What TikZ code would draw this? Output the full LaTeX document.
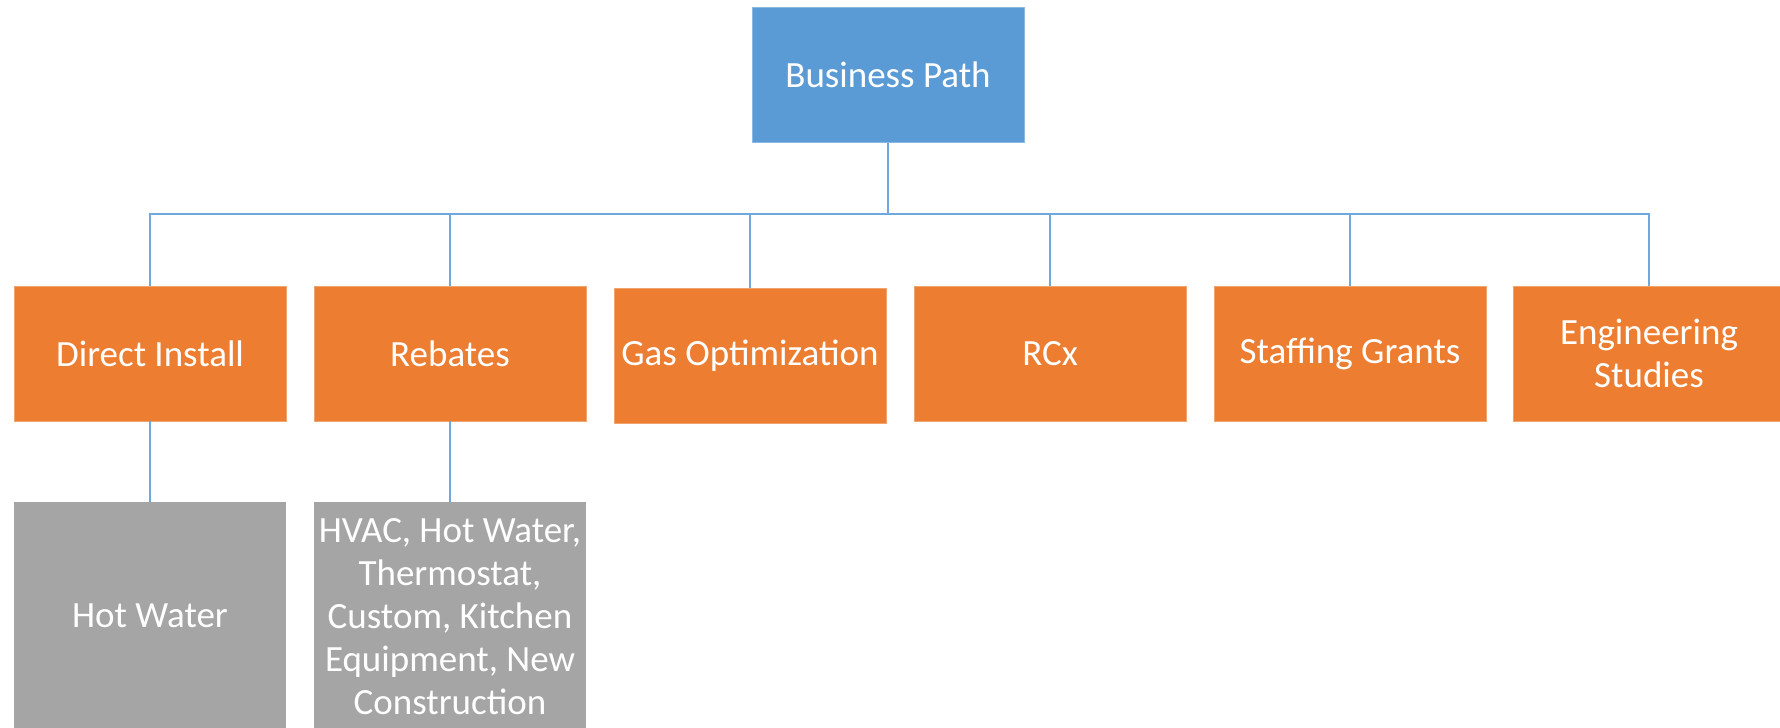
\documentclass[tikz,border=0pt]{standalone}
\usepackage{fontspec}
\setmainfont{Carlito}
\definecolor{bpblue}{HTML}{5B9BD5}
\definecolor{linkblue}{HTML}{6FA8DC}
\definecolor{borange}{HTML}{ED7D31}
\definecolor{bgray}{HTML}{A5A5A5}
\tikzset{
  box/.style={minimum width=272pt, minimum height=135pt, inner sep=2pt, align=center,
    text=white, font=\fontsize{37}{43}\selectfont, anchor=center},
  topbox/.style={box, fill=bpblue, draw=bpblue!70!white, line width=0.8pt},
  midbox/.style={box, fill=borange, draw=borange!70!white, line width=0.8pt},
  lowbox/.style={box, fill=bgray, minimum height=228pt},
  link/.style={draw=linkblue, line width=1.6pt}
}
\begin{document}
\begin{tikzpicture}[x=1pt,y=-1pt]
\useasboundingbox (0,0) rectangle (1780,728);
\clip (0,0) rectangle (1780,728);
\fill[white] (0,0) rectangle (1780,728);
\node[topbox] (bp) at (888,75) {Business Path};
\node[midbox] (di) at (150,353.5) {Direct Install};
\node[midbox] (rb) at (450,353.5) {Rebates};
\node[midbox] (go) at (750,355.5) {Gas Optimization};
\node[midbox] (rc) at (1050,353.5) {RCx};
\node[midbox] (sg) at (1350,353.5) {Staffing Grants};
\node[midbox] (es) at (1649,353.5) {Engineering\\Studies};
\node[lowbox, anchor=north] (hw) at (150,502) {Hot Water};
\node[lowbox, anchor=north] (rl) at (450,502) {HVAC, Hot Water,\\Thermostat,\\Custom, Kitchen\\Equipment, New\\Construction};
\coordinate (bus) at (888,214);
\draw[link] (bp.south) -- (bus);
\draw[link] (bus) -| (di.north);
\draw[link] (bus) -| (rb.north);
\draw[link] (bus) -| (go.north);
\draw[link] (bus) -| (rc.north);
\draw[link] (bus) -| (sg.north);
\draw[link] (bus) -| (es.north);
\draw[link] (di.south) -- (hw.north);
\draw[link] (rb.south) -- (rl.north);
\end{tikzpicture}
\end{document}
